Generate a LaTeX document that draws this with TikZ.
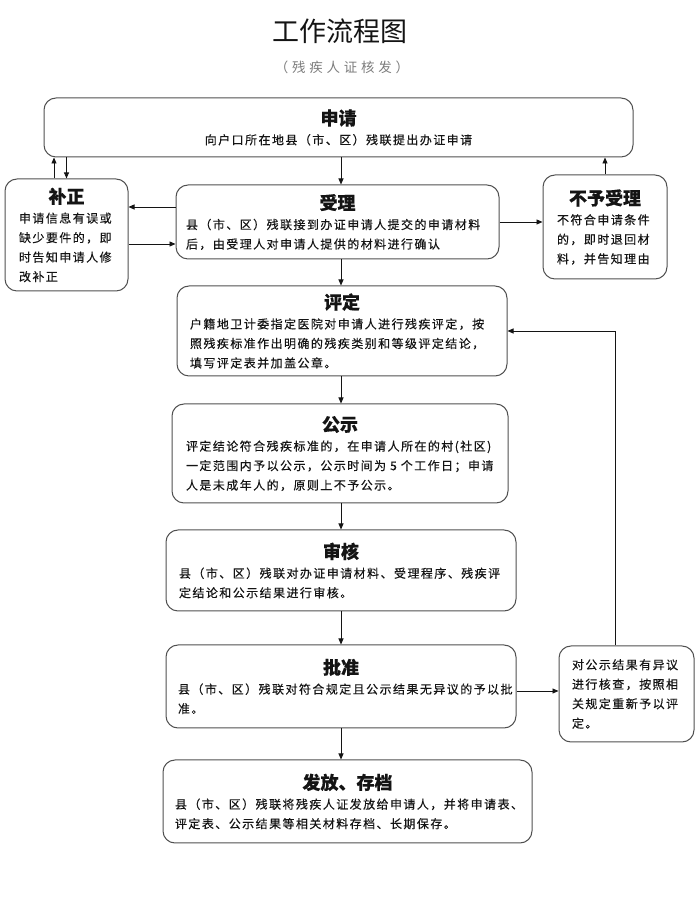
\documentclass[tikz,border=0pt]{standalone}
\usepackage{fontspec}
\setmainfont{Noto Sans CJK SC}
\usepackage{tikz}
\usetikzlibrary{arrows.meta,positioning,calc}
\usepackage{xcolor}
\definecolor{boxgrey}{RGB}{80,80,80}
\definecolor{subgrey}{RGB}{125,125,125}
\definecolor{inkblack}{RGB}{20,20,20}
\newcommand{\headfont}{\fontsize{18}{20}\selectfont\bfseries\addfontfeature{LetterSpace=0}}
\newcommand{\boxhead}[1]{\makebox[\linewidth]{\headfont #1}}

\begin{document}
\begin{tikzpicture}[x=1pt, y=1pt,
    box/.style={draw=boxgrey, line width=1pt, rounded corners=12pt, align=left, text=inkblack,
        font=\fontsize{12}{19.5}\selectfont\addfontfeature{LetterSpace=12,FakeBold=0.4}},
    arr/.style={-{Triangle[length=6pt,width=5pt]}, line width=0.9pt, inkblack}]
    \useasboundingbox (0,0) rectangle (700,900);
    % Heading
    \node[font=\fontsize{27}{29}\selectfont, text=inkblack] (title) at (340,869) {工作流程图};
    \node[font=\fontsize{13.5}{15}\selectfont\addfontfeature{LetterSpace=28}, text=subgrey] (subtitle) at (342,833) {（残疾人证核发）};

    % Top row: application and the two side branches
    \node[box, align=center, minimum width=589pt, minimum height=59pt] (shenqing) at (338.5,772.5)
        {{\headfont 申请}\\向户口所在地县（市、区）残联提出办证申请};
    \node[box, text width=95pt, inner xsep=14pt, minimum height=112pt] (buzheng) at (66.5,665)
        {\boxhead{补正}\\申请信息有误或\\缺少要件的，即\\时告知申请人修\\改补正};
    \node[box, text width=303pt, inner xsep=10pt, minimum height=74pt] (shouli) at (337.5,678)
        {\boxhead{受理}\\县（市、区）残联接到办证申请人提交的申请材料\\后，由受理人对申请人提供的材料进行确认};
    \node[box, text width=96pt, inner xsep=14pt, minimum height=104pt] (buyu) at (605,673)
        {\boxhead{不予受理}\\不符合申请条件\\的，即时退回材\\料，并告知理由};

    % Main column
    \node[box, text width=304pt, inner xsep=13pt, minimum height=90pt] (pingding) at (342,569)
        {\boxhead{评定}\\户籍地卫计委指定医院对申请人进行残疾评定，按\\照残疾标准作出明确的残疾类别和等级评定结论，\\填写评定表并加盖公章。};
    \node[box, text width=308pt, inner xsep=14pt, minimum height=99pt] (gongshi) at (340,446.5)
        {\boxhead{公示}\\评定结论符合残疾标准的，在申请人所在的村(社区)\\一定范围内予以公示，公示时间为 5 个工作日；申请\\人是未成年人的，原则上不予公示。};
    \node[box, text width=324pt, inner xsep=13pt, minimum height=81pt] (shenhe) at (341,329.5)
        {\boxhead{审核}\\县（市、区）残联对办证申请材料、受理程序、残疾评\\定结论和公示结果进行审核。};
    \node[box, text width=326pt, inner xsep=12pt, minimum height=83pt] (pizhun) at (341,213.5)
        {\boxhead{批准}\\县（市、区）残联对符合规定且公示结果无异议的予以批\\准。};
    \node[box, text width=109pt, inner xsep=13pt, minimum height=96pt] (yiyi) at (626.5,206)
        {对公示结果有异议\\进行核查，按照相\\关规定重新予以评\\定。};
    \node[box, text width=345pt, inner xsep=12pt, minimum height=83pt] (fafang) at (347.5,98.5)
        {\boxhead{发放、存档}\\县（市、区）残联将残疾人证发放给申请人，并将申请表、\\评定表、公示结果等相关材料存档、长期保存。};

    % Connectors
    \coordinate (axis) at (341,0);
    \coordinate (bzup) at ([xshift=-12.5pt]buzheng.north);
    \coordinate (slA) at ([yshift=15pt]shouli.west);
    \coordinate (slB) at ([yshift=-22pt]shouli.west);
    \coordinate (pzE) at ([yshift=-4.5pt]pizhun.east);
    \coordinate (fb) at ([xshift=-11.5pt]yiyi.north);
    \draw[arr] (bzup) -- (bzup |- shenqing.south);
    \draw[arr] (buzheng.north |- shenqing.south) -- (buzheng.north);
    \draw[arr] (axis |- shenqing.south) -- (axis |- shouli.north);
    \draw[arr] (buyu.north) -- (buyu.north |- shenqing.south);
    \draw[arr] (slA) -- (slA -| buzheng.east);
    \draw[arr] (slB -| buzheng.east) -- (slB);
    \draw[arr] (shouli.east) -- (shouli.east -| buyu.west);
    \draw[arr] (axis |- shouli.south) -- (axis |- pingding.north);
    \draw[arr] (axis |- pingding.south) -- (axis |- gongshi.north);
    \draw[arr] (axis |- gongshi.south) -- (axis |- shenhe.north);
    \draw[arr] (axis |- shenhe.south) -- (axis |- pizhun.north);
    \draw[arr] (axis |- pizhun.south) -- (axis |- fafang.north);
    \draw[arr] (pzE) -- (pzE -| yiyi.west);
    \draw[arr] (fb) |- (pingding.east);
\end{tikzpicture}
\end{document}
